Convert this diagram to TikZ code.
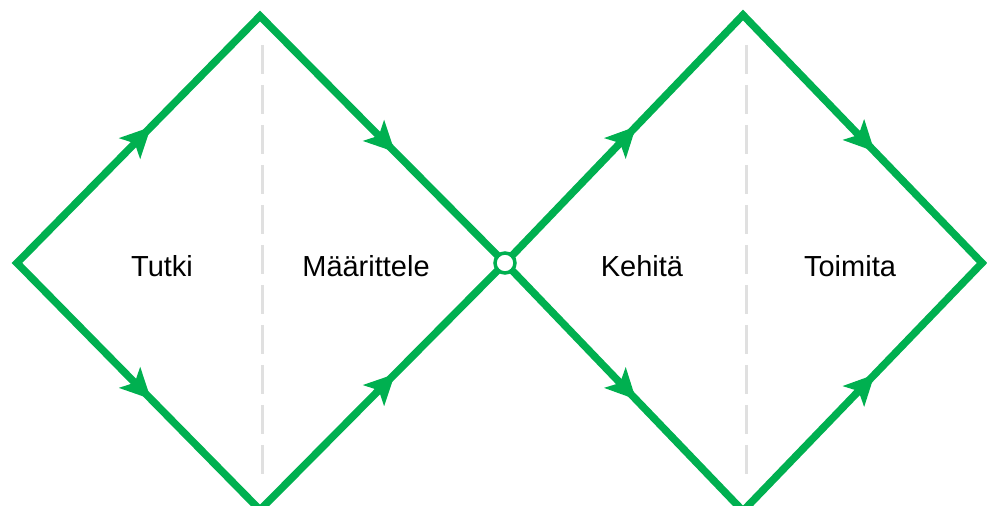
\documentclass[tikz,border=0pt]{standalone}
\usepackage{fontspec}
\setmainfont{Liberation Sans}
\usetikzlibrary{arrows.meta,decorations.markings}
\definecolor{dvG}{RGB}{0,176,80}
\definecolor{dvS}{RGB}{224,224,224}
\newcommand{\TIP}{Stealth[length=0.6cm, width=0.58cm, inset=0.14cm]}

\begin{document}
\begin{tikzpicture}[
    x=0.02cm, y=0.02cm,
    diamond/.style={draw=dvG, line width=0.15cm, line join=miter,
      postaction={decorate},
      decoration={markings,
        mark=at position 0.1375 with {\arrow[dvG]{\TIP}},
        mark=at position 0.3875 with {\arrow[dvG]{\TIP}},
        mark=at position 0.6125 with {\arrowreversed[dvG]{\TIP}},
        mark=at position 0.8625 with {\arrowreversed[dvG]{\TIP}}}},
    split/.style={draw=dvS, line width=0.06cm, dash pattern=on 0.58cm off 0.22cm},
    phase/.style={font=\fontsize{16.5}{20}\selectfont},
    hub/.style={circle, draw=dvG, fill=white, line width=0.07cm,
      minimum width=0.36cm, minimum height=0.4cm, inner sep=0pt},
  ]
  \useasboundingbox (0,0) rectangle (987,506);

  %% ================= corner points =================
  \coordinate (L)  at (17,243);
  \coordinate (T1) at (260,490);
  \coordinate (C)  at (505,243);
  \coordinate (B1) at (260,-4);
  \coordinate (T2) at (743,491);
  \coordinate (R)  at (982,243);
  \coordinate (B2) at (743,-5);

  %% ---- dashed split lines ----
  \coordinate (s1a) at (262,461);
  \coordinate (s1b) at (262,31);
  \coordinate (s2a) at (746,461);
  \coordinate (s2b) at (746,31);
  \draw[split] (s1a) -- (s1b);
  \draw[split] (s2a) -- (s2b);

  %% ================= the two diamonds =================
  \draw[diamond] (L) -- (T1) -- (C) -- (B1) -- cycle;
  \draw[diamond] (C) -- (T2) -- (R) -- (B2) -- cycle;
  \node[hub] (hub) at (C) {};

  %% ---- phase names ----
  \node[phase] (tutki)  at (162,240) {Tutki};
  \node[phase] (maar)   at (366,240) {Määrittele};
  \node[phase] (kehita) at (642,240) {Kehitä};
  \node[phase] (toim)   at (850,240) {Toimita};

\end{tikzpicture}
\end{document}
